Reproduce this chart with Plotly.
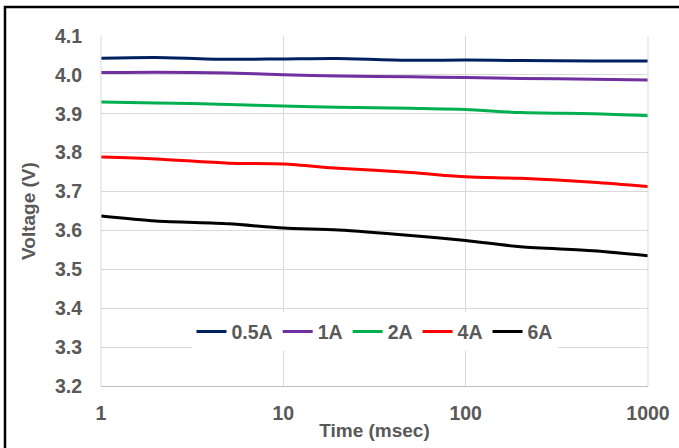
import plotly.graph_objects as go

time_ms = [1, 2, 5, 10, 20, 50, 100, 200, 500, 1000]
v_05A = [4.043, 4.045, 4.040, 4.041, 4.042, 4.0375, 4.038, 4.037, 4.036, 4.036]
v_1A = [4.006, 4.007, 4.005, 4.0005, 3.997, 3.995, 3.993, 3.991, 3.989, 3.987]
v_2A = [3.930, 3.928, 3.924, 3.920, 3.917, 3.914, 3.911, 3.903, 3.900, 3.895]
v_4A = [3.789, 3.784, 3.773, 3.771, 3.760, 3.749, 3.738, 3.734, 3.724, 3.713]
v_6A = [3.637, 3.624, 3.617, 3.606, 3.601, 3.587, 3.574, 3.558, 3.548, 3.535]

series = [("0.5A", v_05A, "#002060"), ("1A", v_1A, "#7030a0"),
          ("2A", v_2A, "#00b050"), ("4A", v_4A, "#ff0000"), ("6A", v_6A, "#000000")]

x_ticks = [1, 10, 100, 1000]
y_ticks = [3.2, 3.3, 3.4, 3.5, 3.6, 3.7, 3.8, 3.9, 4.0, 4.1]

FONT = "Liberation Sans"
GRAY = "#595959"

fig = go.Figure()
for name, vals, color in series:
    fig.add_trace(go.Scatter(x=time_ms, y=vals, name=name, mode="lines",
                             line=dict(color=color, width=3, shape="spline", smoothing=0.8)))

fig.update_layout(
    width=679, height=448,
    margin=dict(l=101, r=31, t=36, b=62, autoexpand=False),
    paper_bgcolor="white", plot_bgcolor="white",
    font=dict(family=FONT, color=GRAY, size=19, weight="bold"),
    showlegend=True,
    legend=dict(orientation="h", x=0.5, xanchor="center", y=0.155, yanchor="middle",
                bgcolor="white", font=dict(family=FONT, size=19.5, color=GRAY, weight="bold"),
                itemwidth=30, tracegroupgap=0),
    xaxis=dict(type="log", range=[0, 3], tickvals=x_ticks, ticktext=[str(t) for t in x_ticks],
               showgrid=True, gridcolor="#d9d9d9", gridwidth=1, automargin=False,
               showline=True, linecolor="#bfbfbf", linewidth=1, mirror=False,
               zeroline=False, ticks="", ticklabelstandoff=10,
               tickfont=dict(family=FONT, size=19.5, color=GRAY, weight="bold"),
               title=dict(text="Time (msec)", standoff=0,
                          font=dict(family=FONT, size=19, color=GRAY, weight="bold"))),
    yaxis=dict(range=[3.2, 4.1], tickvals=y_ticks, ticktext=[f"{t:.1f}" for t in y_ticks],
               showgrid=True, gridcolor="#d9d9d9", gridwidth=1, automargin=False,
               showline=False, zeroline=False, ticks="", ticklabelstandoff=18,
               tickfont=dict(family=FONT, size=19.5, color=GRAY, weight="bold")),
    annotations=[
        dict(text="Voltage (V)", xref="paper", yref="paper", x=-0.1335, y=0.5,
             xanchor="center", yanchor="middle", textangle=-90, showarrow=False,
             font=dict(family=FONT, size=19, color=GRAY, weight="bold")),
    ],
    shapes=[
        dict(type="line", xref="paper", yref="paper", x0=1, x1=1, y0=0, y1=1,
             line=dict(color="#d9d9d9", width=1)),
        dict(type="line", xref="paper", yref="paper", x0=0, x1=0, y0=0, y1=1,
             line=dict(color="#d9d9d9", width=1)),
        dict(type="rect", xref="paper", yref="paper", x0=-0.1755, x1=1.08, y0=-0.22, y1=1.083,
             line=dict(color="black", width=2.5), layer="above"),
    ],
)

fig.write_html("out.html", config={"displayModeBar": False},
               post_script="document.body.style.margin='0';document.body.style.overflow='hidden';")
